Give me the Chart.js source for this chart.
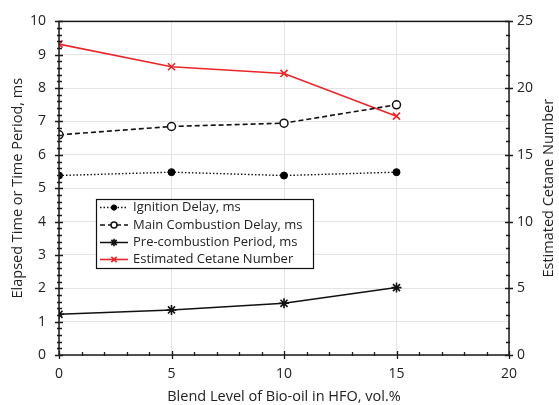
<!DOCTYPE html>
<html>
<head>
<meta charset="utf-8">
<script src="https://cdn.jsdelivr.net/npm/chart.js@4/dist/chart.umd.min.js"></script>
<style>
html,body{margin:0;padding:0;background:#fff;}
#wrap{width:559px;height:405px;}
</style>
</head>
<body>
<div id="wrap"><canvas id="c" width="559" height="405"></canvas></div>
<script>
const blendLevels = [0, 5, 10, 15];
const ignitionDelay = [5.38, 5.48, 5.38, 5.48];
const mainCombustionDelay = [6.60, 6.85, 6.95, 7.50];
const preCombustionPeriod = [1.22, 1.35, 1.55, 2.02];
const cetaneNumber = [23.3, 21.6, 21.1, 17.9];
const seriesNames = ['Ignition Delay, ms', 'Main Combustion Delay, ms', 'Pre-combustion Period, ms', 'Estimated Cetane Number'];
const xTitle = 'Blend Level of Bio-oil in HFO, vol.%';
const yTitle = 'Elapsed Time or Time Period, ms';
const y2Title = 'Estimated Cetane Number';

const FONT = 'Open Sans';
const TXT = '#222';
const RED = '#e8262a';
const pts = arr => blendLevels.map((x, i) => ({x: x, y: arr[i]}));

const datasets = [
  {label: seriesNames[0], data: pts(ignitionDelay), yAxisID: 'y', borderColor: '#111', borderWidth: 1.4,
   borderDash: [1.5, 2], pointStyle: 'circle', pointRadius: 3.5, pointBackgroundColor: '#000', pointBorderColor: '#000', pointBorderWidth: 1},
  {label: seriesNames[1], data: pts(mainCombustionDelay), yAxisID: 'y', borderColor: '#111', borderWidth: 1.6,
   borderDash: [5, 3], pointStyle: 'circle', pointRadius: 4, pointBackgroundColor: '#fff', pointBorderColor: '#111', pointBorderWidth: 1.5},
  {label: seriesNames[2], data: pts(preCombustionPeriod), yAxisID: 'y', borderColor: '#111', borderWidth: 1.5,
   pointStyle: 'star', pointRadius: 5, pointBackgroundColor: '#111', pointBorderColor: '#111', pointBorderWidth: 1.6},
  {label: seriesNames[3], data: pts(cetaneNumber), yAxisID: 'y2', borderColor: RED, borderWidth: 1.6,
   pointStyle: 'crossRot', pointRadius: 5, pointBackgroundColor: RED, pointBorderColor: RED, pointBorderWidth: 1.6}
];

function drawMarker(ctx, style, x, y, r, ds) {
  Chart.helpers.drawPoint(ctx, {pointStyle: style, radius: r, rotation: 0, borderWidth: ds.pointBorderWidth}, x, y);
}

const decor = {
  id: 'decor',
  afterDatasetsDraw(chart) {
    const ctx = chart.ctx, a = chart.chartArea;
    const xs = chart.scales.x, ys = chart.scales.y, y2 = chart.scales.y2;
    ctx.save();
    ctx.strokeStyle = '#1a1a1a';
    ctx.lineWidth = 1.5;
    ctx.setLineDash([]);
    ctx.strokeRect(a.left, a.top, a.right - a.left, a.bottom - a.top);
    ctx.lineWidth = 1.3;
    ctx.beginPath();
    // left axis ticks
    for (let v = 0; v <= 10.0001; v += 0.2) {
      const p = Math.round(ys.getPixelForValue(v)) + 0.5;
      const major = Math.abs(v - Math.round(v)) < 1e-6;
      ctx.moveTo(a.left - (major ? 4 : 2), p);
      ctx.lineTo(a.left + (major ? 4 : 3), p);
    }
    // right axis ticks
    for (let v = 0; v <= 25.0001; v += 1) {
      const p = Math.round(y2.getPixelForValue(v)) + 0.5;
      const major = v % 5 === 0;
      ctx.moveTo(a.right - (major ? 4 : 3), p);
      ctx.lineTo(a.right + (major ? 4 : 1), p);
    }
    // bottom axis ticks
    for (let v = 0; v <= 20; v += 1) {
      const p = Math.round(xs.getPixelForValue(v)) + 0.5;
      const major = v % 5 === 0;
      ctx.moveTo(p, a.bottom - (major ? 4 : 3));
      ctx.lineTo(p, a.bottom + (major ? 4 : 1));
    }
    ctx.stroke();

    // axis titles
    ctx.fillStyle = TXT;
    ctx.font = '14.5px "' + FONT + '"';
    ctx.textAlign = 'center';
    ctx.textBaseline = 'middle';
    const midY = (a.top + a.bottom) / 2;
    ctx.fillText(xTitle, (a.left + a.right) / 2, 397);
    ctx.save();
    ctx.translate(18, midY);
    ctx.rotate(-Math.PI / 2);
    ctx.fillText(yTitle, 0, 0);
    ctx.restore();
    ctx.save();
    ctx.translate(549, midY);
    ctx.rotate(-Math.PI / 2);
    ctx.fillText(y2Title, 0, 0);
    ctx.restore();

    // legend
    const bx = 96, by = 199, bw = 217, bh = 69;
    ctx.fillStyle = '#fff';
    ctx.fillRect(bx, by, bw, bh);
    ctx.strokeStyle = '#111';
    ctx.lineWidth = 1.2;
    ctx.strokeRect(bx + 0.5, by + 0.5, bw, bh);
    const rows = [207.5, 225, 242.5, 259.5];
    ctx.font = '13px "' + FONT + '"';
    ctx.textBaseline = 'middle';
    ctx.textAlign = 'left';
    chart.data.datasets.forEach((ds, i) => {
      const y = rows[i];
      ctx.save();
      ctx.strokeStyle = ds.borderColor;
      ctx.lineWidth = ds.borderWidth;
      ctx.setLineDash(ds.borderDash || []);
      ctx.beginPath();
      ctx.moveTo(100, y);
      ctx.lineTo(128, y);
      ctx.stroke();
      ctx.setLineDash([]);
      ctx.fillStyle = ds.pointBackgroundColor;
      ctx.strokeStyle = ds.pointBorderColor;
      ctx.lineWidth = ds.pointBorderWidth;
      drawMarker(ctx, ds.pointStyle, 114, y, ds.pointRadius * 0.75, ds);
      ctx.restore();
      ctx.fillStyle = TXT;
      ctx.fillText(ds.label, 133, y);
    });
    ctx.restore();
  }
};

new Chart(document.getElementById('c'), {
  type: 'line',
  data: {datasets: datasets},
  options: {
    responsive: false,
    animation: false,
    devicePixelRatio: 1,
    layout: {padding: {top: 19, left: 0, right: 0, bottom: 0}},
    plugins: {legend: {display: false}, tooltip: {enabled: false}},
    elements: {line: {tension: 0}},
    scales: {
      x: {
        type: 'linear', min: 0, max: 20,
        ticks: {stepSize: 5, padding: 11, color: TXT, font: {family: FONT, size: 14}},
        grid: {color: '#e4e4e4', drawTicks: false, lineWidth: 1},
        border: {display: false},
        title: {display: false},
        afterFit(s) { s.height = 50; }
      },
      y: {
        position: 'left', min: 0, max: 10,
        ticks: {stepSize: 1, padding: 13, color: TXT, font: {family: FONT, size: 14}},
        grid: {color: '#e4e4e4', drawTicks: false, lineWidth: 1},
        border: {display: false},
        title: {display: false},
        afterFit(s) { s.width = 59; }
      },
      y2: {
        position: 'right', min: 0, max: 25,
        ticks: {stepSize: 5, padding: 8, color: TXT, font: {family: FONT, size: 14}},
        grid: {display: false, drawTicks: false},
        border: {display: false},
        title: {display: false},
        afterFit(s) { s.width = 50; }
      }
    }
  },
  plugins: [decor]
});
</script>
</body>
</html>
